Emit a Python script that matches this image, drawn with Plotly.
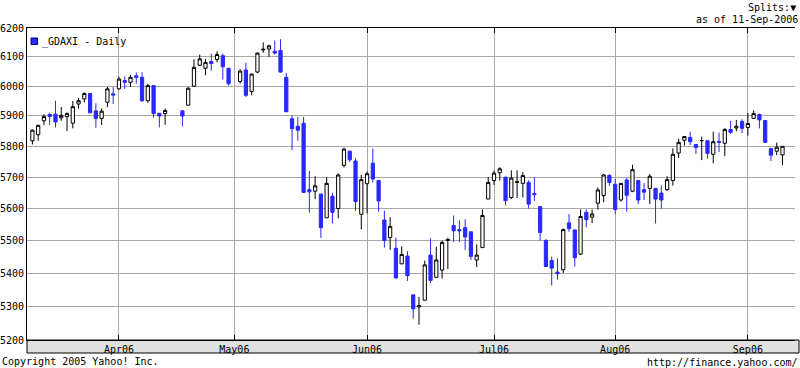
import math
import plotly.graph_objects as go

dates = [
    "2006-03-13", "2006-03-14", "2006-03-15", "2006-03-16", "2006-03-17",
    "2006-03-20", "2006-03-21", "2006-03-22", "2006-03-23", "2006-03-24",
    "2006-03-27", "2006-03-28", "2006-03-29", "2006-03-30", "2006-03-31",
    "2006-04-03", "2006-04-04", "2006-04-05", "2006-04-06", "2006-04-07",
    "2006-04-10", "2006-04-11", "2006-04-12", "2006-04-13",
    "2006-04-18", "2006-04-19", "2006-04-20", "2006-04-21",
    "2006-04-24", "2006-04-25", "2006-04-26", "2006-04-27", "2006-04-28",
    "2006-05-02", "2006-05-03", "2006-05-04", "2006-05-05",
    "2006-05-08", "2006-05-09", "2006-05-10", "2006-05-11", "2006-05-12",
    "2006-05-15", "2006-05-16", "2006-05-17", "2006-05-18", "2006-05-19",
    "2006-05-22", "2006-05-23", "2006-05-24", "2006-05-25", "2006-05-26",
    "2006-05-29", "2006-05-30", "2006-05-31", "2006-06-01", "2006-06-02",
    "2006-06-05", "2006-06-06", "2006-06-07", "2006-06-08", "2006-06-09",
    "2006-06-12", "2006-06-13", "2006-06-14", "2006-06-15", "2006-06-16",
    "2006-06-19", "2006-06-20", "2006-06-21", "2006-06-22", "2006-06-23",
    "2006-06-26", "2006-06-27", "2006-06-28", "2006-06-29", "2006-06-30",
    "2006-07-03", "2006-07-04", "2006-07-05", "2006-07-06", "2006-07-07",
    "2006-07-10", "2006-07-11", "2006-07-12", "2006-07-13", "2006-07-14",
    "2006-07-17", "2006-07-18", "2006-07-19", "2006-07-20", "2006-07-21",
    "2006-07-24", "2006-07-25", "2006-07-26", "2006-07-27", "2006-07-28",
    "2006-07-31", "2006-08-01", "2006-08-02", "2006-08-03", "2006-08-04",
    "2006-08-07", "2006-08-08", "2006-08-09", "2006-08-10", "2006-08-11",
    "2006-08-14", "2006-08-15", "2006-08-16", "2006-08-17", "2006-08-18",
    "2006-08-21", "2006-08-22", "2006-08-23", "2006-08-24", "2006-08-25",
    "2006-08-28", "2006-08-29", "2006-08-30", "2006-08-31", "2006-09-01",
    "2006-09-04", "2006-09-05", "2006-09-06", "2006-09-07", "2006-09-08",
    "2006-09-11",
]

opens = [
    5818, 5838, 5884, 5905, 5906,
    5894, 5898, 5876, 5940, 5957,
    5975, 5917, 5892, 5946, 5974,
    5991, 6019, 6013, 6035, 6030,
    5951, 6002, 5909, 5908,
    5917, 5936, 6000, 6071,
    6061, 6084, 6091, 6104, 6061,
    6016, 6055, 5982, 6048,
    6124, 6127, 6119, 6122, 6030,
    5891, 5866, 5876, 5660, 5655,
    5646, 5571, 5639, 5600, 5738,
    5784, 5752, 5582, 5679, 5745,
    5689, 5564, 5509, 5476, 5428,
    5452, 5334, 5298, 5318, 5455,
    5387, 5409, 5500, 5547, 5534,
    5540, 5527, 5440, 5478, 5630,
    5689, 5714, 5700, 5635, 5683,
    5680, 5683, 5648, 5606, 5500,
    5438, 5403, 5410, 5555, 5533,
    5458, 5588, 5573, 5617, 5641,
    5705, 5677, 5627, 5691, 5655,
    5689, 5660, 5664, 5664, 5649,
    5660, 5689, 5778, 5820, 5829,
    5806, 5818, 5818, 5774, 5816,
    5810, 5855, 5860, 5882, 5862,
    5892, 5905, 5885, 5793, 5784,
    5772,
]

highs = [
    5855, 5871, 5906, 5911, 5951,
    5930, 5912, 5950, 5960, 5979,
    5977, 5942, 5925, 5997, 5997,
    6032, 6033, 6038, 6047, 6047,
    6008, 6004, 5909, 5925,
    5917, 5997, 6091, 6108,
    6093, 6111, 6119, 6111, 6061,
    6058, 6080, 6043, 6115,
    6150, 6142, 6156, 6161, 6045,
    5902, 5897, 5897, 5720, 5703,
    5646, 5700, 5650, 5712, 5795,
    5786, 5762, 5707, 5718, 5793,
    5690, 5593, 5573, 5509, 5482,
    5467, 5334, 5328, 5438, 5507,
    5481, 5500, 5509, 5578, 5563,
    5566, 5527, 5488, 5597, 5700,
    5721, 5732, 5700, 5722, 5722,
    5716, 5690, 5700, 5606, 5505,
    5450, 5445, 5537, 5583, 5533,
    5597, 5597, 5597, 5667, 5710,
    5710, 5694, 5681, 5697, 5740,
    5689, 5681, 5710, 5664, 5674,
    5703, 5793, 5825, 5834, 5848,
    5806, 5832, 5820, 5848, 5845,
    5860, 5884, 5887, 5889, 5910,
    5919, 5908, 5885, 5793, 5812,
    5800,
]

lows = [
    5806, 5818, 5870, 5870, 5862,
    5884, 5850, 5859, 5924, 5945,
    5908, 5861, 5870, 5929, 5940,
    5988, 5991, 5997, 6008, 5946,
    5944, 5894, 5862, 5871,
    5866, 5936, 5997, 6069,
    6037, 6052, 6081, 6022, 6002,
    6008, 5963, 5969, 6044,
    6114, 6100, 6108, 6045, 5913,
    5788, 5818, 5650, 5587, 5630,
    5508, 5571, 5553, 5569, 5731,
    5749, 5593, 5535, 5585, 5683,
    5590, 5478, 5471, 5383, 5428,
    5376, 5263, 5245, 5318, 5370,
    5387, 5383, 5412, 5495, 5495,
    5471, 5440, 5418, 5478, 5630,
    5675, 5689, 5610, 5630, 5633,
    5635, 5600, 5624, 5500, 5420,
    5362, 5380, 5400, 5527, 5420,
    5455, 5541, 5554, 5597, 5620,
    5672, 5583, 5622, 5590, 5652,
    5614, 5627, 5614, 5553, 5600,
    5655, 5673, 5762, 5802, 5804,
    5775, 5755, 5760, 5745, 5781,
    5768, 5841, 5849, 5843, 5835,
    5892, 5859, 5813, 5752, 5771,
    5739,
]

closes = [
    5853, 5869, 5898, 5898, 5880,
    5902, 5908, 5931, 5951, 5975,
    5911, 5892, 5916, 5991, 5970,
    6024, 6013, 6030, 6030, 5951,
    6002, 5908, 5900, 5918,
    5900, 5993, 6064, 6093,
    6081, 6077, 6108, 6066, 6008,
    6051, 5969, 6041, 6113,
    6126, 6138, 6113, 6048, 5914,
    5858, 5853, 5651, 5653, 5672,
    5540, 5680, 5588, 5707, 5791,
    5756, 5622, 5692, 5711, 5694,
    5624, 5500, 5544, 5385, 5457,
    5392, 5292, 5302, 5425, 5378,
    5440, 5494, 5503, 5530, 5530,
    5511, 5451, 5455, 5578, 5683,
    5713, 5727, 5625, 5697, 5685,
    5705, 5614, 5644, 5525, 5420,
    5415, 5398, 5534, 5537, 5447,
    5575, 5565, 5583, 5659, 5707,
    5683, 5597, 5680, 5642, 5724,
    5627, 5652, 5703, 5630, 5627,
    5692, 5774, 5813, 5832, 5815,
    5796, 5819, 5777, 5815, 5813,
    5855, 5846, 5866, 5859, 5875,
    5908, 5887, 5813, 5771, 5797,
    5800,
]

month_ticks = ["2006-04-03", "2006-05-01", "2006-06-01", "2006-07-03", "2006-08-01", "2006-09-01"]
month_labels = ["Apr06", "May06", "Jun06", "Jul06", "Aug06", "Sep06"]
price_ticks = [5200, 5300, 5400, 5500, 5600, 5700, 5800, 5900, 6000, 6100, 6200]

BLUE = "#2828ff"
FONT = "DejaVu Sans Mono"

fig = go.Figure()
fig.add_trace(go.Candlestick(
    x=dates, open=opens, high=highs, low=lows, close=closes,
    increasing=dict(line=dict(color="black", width=1), fillcolor="white"),
    decreasing=dict(line=dict(color=BLUE, width=1), fillcolor=BLUE),
    whiskerwidth=0,
    showlegend=False,
    hoverinfo="x+y",
))

W, H = 800, 368
ml, mr, mt, mb = 27, 5, 28, 28
pw, ph = W - ml - mr, H - mt - mb

def px(xp):
    return (xp - ml) / pw

def py(yp):
    return (H - mb - yp) / ph

fig.update_layout(
    width=W, height=H,
    margin=dict(l=ml, r=mr, t=mt, b=mb, pad=0, autoexpand=False),
    paper_bgcolor="white", plot_bgcolor="white",
    font=dict(family=FONT, size=10, color="black"),
    showlegend=False,
    boxgap=0.2,
    xaxis=dict(
        type="date",
        rangebreaks=[dict(bounds=["sat", "mon"])],
        range=["2006-03-10 01:30", "2006-09-13 04:00"],
        rangeslider=dict(visible=False),
        tickmode="array", tickvals=month_ticks, ticktext=month_labels,
        showgrid=True, gridcolor="#a8a8a8", gridwidth=1,
        ticks="inside", ticklen=5, tickcolor="black", tickwidth=1,
        showline=True, linecolor="black", linewidth=1, mirror="ticks",
        tickfont=dict(family=FONT, size=10, color="black"),
        zeroline=False, automargin=False,
        fixedrange=True,
    ),
    yaxis=dict(
        type="log",
        range=[math.log10(5200), math.log10(6200)],
        tickmode="array", tickvals=price_ticks,
        ticktext=[str(v) for v in price_ticks],
        showgrid=True, gridcolor="#a8a8a8", gridwidth=1,
        ticks="", showline=True, linecolor="black", linewidth=1,
        tickfont=dict(family=FONT, size=10, color="black"),
        zeroline=False, automargin=False,
        fixedrange=True,
    ),
    yaxis2=dict(
        type="log", overlaying="y", side="right", anchor="x",
        range=[math.log10(5200), math.log10(6200)],
        tickmode="array", tickvals=price_ticks,
        showticklabels=False, showgrid=False,
        ticks="inside", ticklen=4, tickcolor="black",
        showline=True, linecolor="black", linewidth=1,
        zeroline=False, automargin=False, fixedrange=True,
    ),
)

shapes = [
    # gray date band under the plot
    dict(type="rect", xref="paper", yref="paper",
         x0=0, x1=px(799), y0=py(353), y1=0,
         fillcolor="#e0e0e0", line=dict(color="black", width=1), layer="below"),
    # legend swatch
    dict(type="rect", xref="paper", yref="paper",
         x0=px(31), x1=px(37.5), y0=py(44.5), y1=py(38),
         fillcolor=BLUE, line=dict(color="#000080", width=1)),
]
fig.update_layout(shapes=shapes)

annotations = [
    dict(text="_GDAXI - Daily", xref="paper", yref="paper",
         x=px(40), y=py(42), xanchor="left", yanchor="middle", showarrow=False,
         font=dict(family=FONT, size=10, color="black")),
    dict(text="Splits:\u25BC", xref="paper", yref="paper",
         x=px(798), y=py(7), xanchor="right", yanchor="middle", showarrow=False,
         font=dict(family=FONT, size=10, color="black")),
    dict(text="as of 11-Sep-2006", xref="paper", yref="paper",
         x=px(800), y=py(19), xanchor="right", yanchor="middle", showarrow=False,
         font=dict(family=FONT, size=10, color="black")),
    dict(text="Copyright 2005 Yahoo! Inc.", xref="paper", yref="paper",
         x=px(0), y=py(361), xanchor="left", yanchor="middle", showarrow=False,
         font=dict(family=FONT, size=10, color="black")),
    dict(text="http://finance.yahoo.com/", xref="paper", yref="paper",
         x=px(800), y=py(362), xanchor="right", yanchor="middle", showarrow=False,
         font=dict(family=FONT, size=10, color="black")),
]
fig.update_layout(annotations=annotations)

fig.write_html("out.html", config=dict(displayModeBar=False))
